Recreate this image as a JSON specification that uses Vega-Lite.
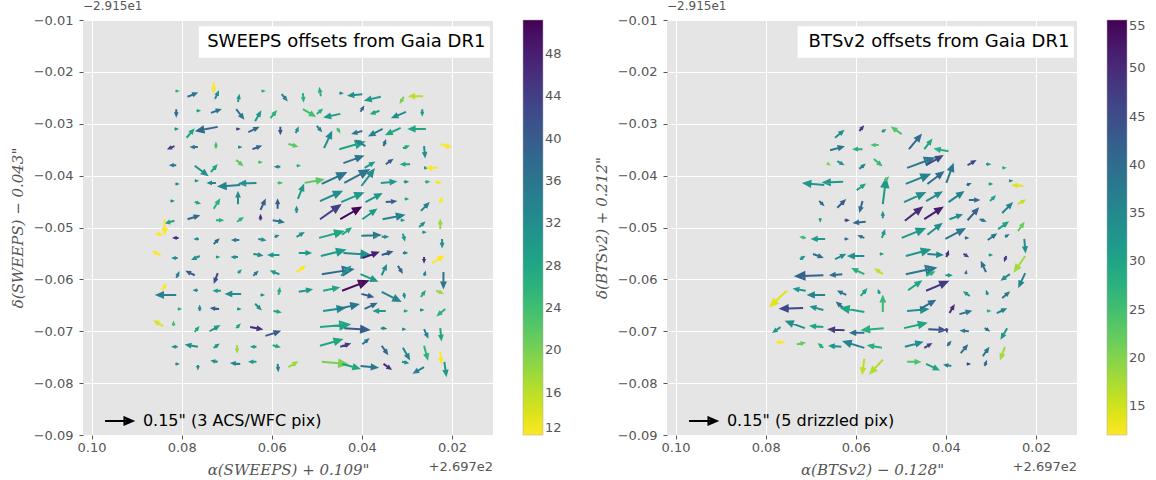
{
"$schema": "https://vega.github.io/schema/vega-lite/v6.json",
"padding": {"left": 10, "top": 0, "right": 2, "bottom": 0},
"datasets": {
"sweeps": [
{"ra":0.0814,"dec":-0.0237,"len":0.011,"ang":0,"c":26},{"ra":0.0787,"dec":-0.0248,"len":0.049,"ang":-22,"c":36},{"ra":0.0729,"dec":-0.0220,"len":0.049,"ang":90,"c":12},{"ra":0.0726,"dec":-0.0252,"len":0.038,"ang":-65,"c":32},{"ra":0.0623,"dec":-0.0237,"len":0.011,"ang":0,"c":26},{"ra":0.0675,"dec":-0.0258,"len":0.032,"ang":-80,"c":30},{"ra":0.0578,"dec":-0.0243,"len":0.038,"ang":50,"c":34},
{"ra":0.0812,"dec":-0.0272,"len":0.032,"ang":90,"c":38},{"ra":0.0767,"dec":-0.0275,"len":0.011,"ang":0,"c":30},{"ra":0.0735,"dec":-0.0279,"len":0.049,"ang":-20,"c":36},{"ra":0.0679,"dec":-0.0272,"len":0.059,"ang":52,"c":36},{"ra":0.0637,"dec":-0.0295,"len":0.054,"ang":-60,"c":30},{"ra":0.0603,"dec":-0.0289,"len":0.043,"ang":-50,"c":26},
{"ra":0.0816,"dec":-0.0310,"len":0.011,"ang":0,"c":32},{"ra":0.0789,"dec":-0.0327,"len":0.054,"ang":-50,"c":28},{"ra":0.0720,"dec":-0.0306,"len":0.113,"ang":169,"c":38},{"ra":0.0679,"dec":-0.0310,"len":0.011,"ang":0,"c":44},{"ra":0.0652,"dec":-0.0316,"len":0.054,"ang":-25,"c":38},{"ra":0.0581,"dec":-0.0306,"len":0.032,"ang":90,"c":42},{"ra":0.0547,"dec":-0.0318,"len":0.027,"ang":-65,"c":32},
{"ra":0.0816,"dec":-0.0343,"len":0.032,"ang":155,"c":44},{"ra":0.0764,"dec":-0.0345,"len":0.032,"ang":180,"c":36},{"ra":0.0724,"dec":-0.0347,"len":0.022,"ang":-90,"c":24},{"ra":0.0675,"dec":-0.0345,"len":0.011,"ang":0,"c":32},{"ra":0.0643,"dec":-0.0349,"len":0.043,"ang":-20,"c":38},{"ra":0.0563,"dec":-0.0339,"len":0.043,"ang":15,"c":22},
{"ra":0.0812,"dec":-0.0380,"len":0.027,"ang":180,"c":36},{"ra":0.0771,"dec":-0.0381,"len":0.081,"ang":37,"c":32},{"ra":0.0735,"dec":-0.0393,"len":0.043,"ang":-50,"c":28},{"ra":0.0679,"dec":-0.0370,"len":0.038,"ang":40,"c":22},{"ra":0.0630,"dec":-0.0374,"len":0.011,"ang":0,"c":24},{"ra":0.0581,"dec":-0.0383,"len":0.022,"ang":180,"c":34},{"ra":0.0545,"dec":-0.0381,"len":0.011,"ang":0,"c":26},
{"ra":0.0814,"dec":-0.0416,"len":0.011,"ang":0,"c":32},{"ra":0.0771,"dec":-0.0410,"len":0.011,"ang":0,"c":32},{"ra":0.0724,"dec":-0.0414,"len":0.038,"ang":180,"c":34},{"ra":0.0670,"dec":-0.0418,"len":0.113,"ang":176,"c":34},{"ra":0.0634,"dec":-0.0414,"len":0.087,"ang":178,"c":32},{"ra":0.0587,"dec":-0.0414,"len":0.016,"ang":0,"c":24},{"ra":0.0542,"dec":-0.0445,"len":0.076,"ang":-68,"c":30},
{"ra":0.0825,"dec":-0.0449,"len":0.011,"ang":0,"c":32},{"ra":0.0771,"dec":-0.0451,"len":0.022,"ang":15,"c":28},{"ra":0.0729,"dec":-0.0464,"len":0.054,"ang":-58,"c":26},{"ra":0.0675,"dec":-0.0455,"len":0.059,"ang":-90,"c":32},{"ra":0.0625,"dec":-0.0466,"len":0.054,"ang":-65,"c":40},{"ra":0.0587,"dec":-0.0464,"len":0.043,"ang":-90,"c":40},{"ra":0.0545,"dec":-0.0472,"len":0.027,"ang":-90,"c":32},
{"ra":0.0816,"dec":-0.0487,"len":0.043,"ang":165,"c":28},{"ra":0.0787,"dec":-0.0484,"len":0.059,"ang":-17,"c":38},{"ra":0.0724,"dec":-0.0486,"len":0.032,"ang":0,"c":26},{"ra":0.0677,"dec":-0.0489,"len":0.032,"ang":-35,"c":26},{"ra":0.0625,"dec":-0.0486,"len":0.022,"ang":-90,"c":46},{"ra":0.0598,"dec":-0.0486,"len":0.054,"ang":10,"c":36},{"ra":0.0838,"dec":-0.0484,"len":0.076,"ang":90,"c":12},
{"ra":0.0531,"dec":-0.0241,"len":0.038,"ang":85,"c":26},{"ra":0.0491,"dec":-0.0247,"len":0.038,"ang":-100,"c":26},{"ra":0.0450,"dec":-0.0241,"len":0.011,"ang":0,"c":32},{"ra":0.0399,"dec":-0.0243,"len":0.070,"ang":174,"c":32},{"ra":0.0358,"dec":-0.0248,"len":0.081,"ang":167,"c":30},{"ra":0.0307,"dec":-0.0248,"len":0.032,"ang":120,"c":20},{"ra":0.0264,"dec":-0.0247,"len":0.070,"ang":180,"c":16},
{"ra":0.0531,"dec":-0.0272,"len":0.070,"ang":30,"c":24},{"ra":0.0500,"dec":-0.0281,"len":0.032,"ang":-40,"c":26},{"ra":0.0448,"dec":-0.0281,"len":0.081,"ang":168,"c":30},{"ra":0.0403,"dec":-0.0277,"len":0.027,"ang":-60,"c":38},{"ra":0.0361,"dec":-0.0275,"len":0.043,"ang":160,"c":28},{"ra":0.0302,"dec":-0.0277,"len":0.076,"ang":157,"c":32},{"ra":0.0266,"dec":-0.0272,"len":0.027,"ang":90,"c":30},
{"ra":0.0500,"dec":-0.0304,"len":0.032,"ang":50,"c":34},{"ra":0.0455,"dec":-0.0308,"len":0.022,"ang":60,"c":24},{"ra":0.0399,"dec":-0.0314,"len":0.049,"ang":165,"c":36},{"ra":0.0354,"dec":-0.0310,"len":0.076,"ang":153,"c":34},{"ra":0.0314,"dec":-0.0308,"len":0.081,"ang":155,"c":28},{"ra":0.0258,"dec":-0.0310,"len":0.087,"ang":180,"c":28},
{"ra":0.0484,"dec":-0.0347,"len":0.092,"ang":-65,"c":32},{"ra":0.0450,"dec":-0.0349,"len":0.135,"ang":-16,"c":28},{"ra":0.0392,"dec":-0.0343,"len":0.054,"ang":210,"c":34},{"ra":0.0352,"dec":-0.0343,"len":0.027,"ang":-70,"c":38},{"ra":0.0309,"dec":-0.0347,"len":0.027,"ang":-20,"c":28},{"ra":0.0262,"dec":-0.0343,"len":0.054,"ang":85,"c":32},{"ra":0.0226,"dec":-0.0339,"len":0.054,"ang":18,"c":12},
{"ra":0.0441,"dec":-0.0376,"len":0.108,"ang":-20,"c":36},{"ra":0.0394,"dec":-0.0385,"len":0.054,"ang":-30,"c":30},{"ra":0.0347,"dec":-0.0378,"len":0.038,"ang":-35,"c":40},{"ra":0.0293,"dec":-0.0378,"len":0.043,"ang":180,"c":28},{"ra":0.0262,"dec":-0.0385,"len":0.011,"ang":0,"c":32},{"ra":0.0231,"dec":-0.0385,"len":0.054,"ang":180,"c":12},
{"ra":0.0527,"dec":-0.0414,"len":0.097,"ang":-10,"c":22},{"ra":0.0489,"dec":-0.0416,"len":0.140,"ang":-25,"c":36},{"ra":0.0439,"dec":-0.0414,"len":0.146,"ang":-28,"c":36},{"ra":0.0401,"dec":-0.0420,"len":0.108,"ang":-53,"c":32},{"ra":0.0358,"dec":-0.0414,"len":0.076,"ang":-5,"c":30},{"ra":0.0307,"dec":-0.0412,"len":0.016,"ang":0,"c":32},{"ra":0.0260,"dec":-0.0412,"len":0.016,"ang":0,"c":26},{"ra":0.0237,"dec":-0.0412,"len":0.022,"ang":10,"c":12},
{"ra":0.0493,"dec":-0.0449,"len":0.124,"ang":-24,"c":32},{"ra":0.0446,"dec":-0.0451,"len":0.124,"ang":-23,"c":30},{"ra":0.0392,"dec":-0.0451,"len":0.092,"ang":-28,"c":30},{"ra":0.0347,"dec":-0.0451,"len":0.049,"ang":-5,"c":40},{"ra":0.0305,"dec":-0.0445,"len":0.011,"ang":0,"c":28},{"ra":0.0269,"dec":-0.0468,"len":0.054,"ang":-45,"c":34},{"ra":0.0228,"dec":-0.0453,"len":0.027,"ang":-60,"c":12},
{"ra":0.0493,"dec":-0.0484,"len":0.130,"ang":-35,"c":44},{"ra":0.0448,"dec":-0.0484,"len":0.124,"ang":-30,"c":51},{"ra":0.0399,"dec":-0.0484,"len":0.087,"ang":-35,"c":30},{"ra":0.0354,"dec":-0.0484,"len":0.113,"ang":-11,"c":34},{"ra":0.0314,"dec":-0.0486,"len":0.011,"ang":0,"c":30},{"ra":0.0273,"dec":-0.0499,"len":0.032,"ang":-40,"c":32},{"ra":0.0226,"dec":-0.0503,"len":0.043,"ang":-90,"c":18},
{"ra":0.0843,"dec":-0.0514,"len":0.027,"ang":190,"c":12},{"ra":0.0807,"dec":-0.0520,"len":0.022,"ang":180,"c":46},{"ra":0.0762,"dec":-0.0522,"len":0.016,"ang":180,"c":32},{"ra":0.0729,"dec":-0.0532,"len":0.032,"ang":-45,"c":38},{"ra":0.0672,"dec":-0.0524,"len":0.032,"ang":180,"c":34},{"ra":0.0630,"dec":-0.0522,"len":0.032,"ang":10,"c":32},{"ra":0.0594,"dec":-0.0518,"len":0.016,"ang":-20,"c":32},{"ra":0.0545,"dec":-0.0518,"len":0.038,"ang":-30,"c":32},
{"ra":0.0847,"dec":-0.0553,"len":0.038,"ang":205,"c":12},{"ra":0.0809,"dec":-0.0559,"len":0.022,"ang":180,"c":32},{"ra":0.0760,"dec":-0.0555,"len":0.038,"ang":155,"c":32},{"ra":0.0724,"dec":-0.0557,"len":0.011,"ang":0,"c":30},{"ra":0.0675,"dec":-0.0557,"len":0.027,"ang":180,"c":32},{"ra":0.0641,"dec":-0.0551,"len":0.043,"ang":10,"c":32},{"ra":0.0583,"dec":-0.0553,"len":0.054,"ang":180,"c":30},
{"ra":0.0812,"dec":-0.0597,"len":0.027,"ang":-65,"c":34},{"ra":0.0771,"dec":-0.0592,"len":0.043,"ang":205,"c":40},{"ra":0.0720,"dec":-0.0588,"len":0.049,"ang":110,"c":42},{"ra":0.0675,"dec":-0.0588,"len":0.016,"ang":-45,"c":30},{"ra":0.0641,"dec":-0.0593,"len":0.027,"ang":-45,"c":36},{"ra":0.0583,"dec":-0.0590,"len":0.043,"ang":200,"c":30},
{"ra":0.0843,"dec":-0.0621,"len":0.032,"ang":-60,"c":12},{"ra":0.0812,"dec":-0.0630,"len":0.103,"ang":180,"c":34},{"ra":0.0764,"dec":-0.0621,"len":0.016,"ang":180,"c":32},{"ra":0.0713,"dec":-0.0622,"len":0.032,"ang":180,"c":30},{"ra":0.0668,"dec":-0.0628,"len":0.076,"ang":180,"c":32},{"ra":0.0625,"dec":-0.0630,"len":0.011,"ang":0,"c":32},{"ra":0.0585,"dec":-0.0630,"len":0.032,"ang":-80,"c":26},
{"ra":0.0809,"dec":-0.0657,"len":0.011,"ang":0,"c":26},{"ra":0.0760,"dec":-0.0661,"len":0.022,"ang":-90,"c":32},{"ra":0.0717,"dec":-0.0657,"len":0.038,"ang":185,"c":40},{"ra":0.0677,"dec":-0.0657,"len":0.011,"ang":0,"c":32},{"ra":0.0637,"dec":-0.0647,"len":0.038,"ang":45,"c":32},{"ra":0.0596,"dec":-0.0661,"len":0.032,"ang":10,"c":28},
{"ra":0.0841,"dec":-0.0690,"len":0.049,"ang":210,"c":14},{"ra":0.0818,"dec":-0.0690,"len":0.016,"ang":-90,"c":24},{"ra":0.0771,"dec":-0.0701,"len":0.027,"ang":-50,"c":28},{"ra":0.0738,"dec":-0.0700,"len":0.054,"ang":-30,"c":30},{"ra":0.0679,"dec":-0.0694,"len":0.022,"ang":-45,"c":28},{"ra":0.0648,"dec":-0.0692,"len":0.059,"ang":10,"c":46},{"ra":0.0614,"dec":-0.0709,"len":0.076,"ang":-18,"c":40},
{"ra":0.0809,"dec":-0.0730,"len":0.022,"ang":180,"c":32},{"ra":0.0764,"dec":-0.0730,"len":0.059,"ang":190,"c":32},{"ra":0.0729,"dec":-0.0732,"len":0.027,"ang":-35,"c":30},{"ra":0.0677,"dec":-0.0727,"len":0.032,"ang":90,"c":18},{"ra":0.0634,"dec":-0.0730,"len":0.022,"ang":180,"c":30},{"ra":0.0598,"dec":-0.0727,"len":0.032,"ang":15,"c":28},
{"ra":0.0814,"dec":-0.0763,"len":0.011,"ang":0,"c":32},{"ra":0.0764,"dec":-0.0765,"len":0.016,"ang":90,"c":32},{"ra":0.0720,"dec":-0.0759,"len":0.027,"ang":190,"c":32},{"ra":0.0670,"dec":-0.0763,"len":0.043,"ang":185,"c":34},{"ra":0.0634,"dec":-0.0759,"len":0.032,"ang":180,"c":30},{"ra":0.0587,"dec":-0.0763,"len":0.032,"ang":85,"c":34},{"ra":0.0563,"dec":-0.0769,"len":0.049,"ang":-30,"c":18},
{"ra":0.0495,"dec":-0.0520,"len":0.130,"ang":-15,"c":28},{"ra":0.0444,"dec":-0.0514,"len":0.054,"ang":-37,"c":28},{"ra":0.0401,"dec":-0.0516,"len":0.097,"ang":-2,"c":36},{"ra":0.0356,"dec":-0.0518,"len":0.027,"ang":0,"c":32},{"ra":0.0309,"dec":-0.0512,"len":0.032,"ang":75,"c":30},{"ra":0.0266,"dec":-0.0509,"len":0.011,"ang":0,"c":32},{"ra":0.0222,"dec":-0.0522,"len":0.038,"ang":90,"c":32},
{"ra":0.0540,"dec":-0.0549,"len":0.059,"ang":0,"c":30},{"ra":0.0491,"dec":-0.0555,"len":0.130,"ang":-14,"c":30},{"ra":0.0441,"dec":-0.0549,"len":0.140,"ang":4,"c":32},{"ra":0.0399,"dec":-0.0559,"len":0.087,"ang":-20,"c":48},{"ra":0.0356,"dec":-0.0553,"len":0.054,"ang":-18,"c":40},{"ra":0.0309,"dec":-0.0549,"len":0.016,"ang":0,"c":34},{"ra":0.0262,"dec":-0.0557,"len":0.022,"ang":90,"c":46},{"ra":0.0244,"dec":-0.0568,"len":0.065,"ang":-30,"c":12},
{"ra":0.0545,"dec":-0.0586,"len":0.049,"ang":-35,"c":12},{"ra":0.0489,"dec":-0.0590,"len":0.167,"ang":-9,"c":38},{"ra":0.0446,"dec":-0.0593,"len":0.065,"ang":-45,"c":30},{"ra":0.0403,"dec":-0.0590,"len":0.092,"ang":23,"c":30},{"ra":0.0356,"dec":-0.0592,"len":0.054,"ang":-65,"c":32},{"ra":0.0320,"dec":-0.0574,"len":0.038,"ang":58,"c":38},{"ra":0.0262,"dec":-0.0593,"len":0.016,"ang":-70,"c":34},{"ra":0.0219,"dec":-0.0586,"len":0.081,"ang":90,"c":36},
{"ra":0.0444,"dec":-0.0622,"len":0.146,"ang":-21,"c":50},{"ra":0.0540,"dec":-0.0624,"len":0.065,"ang":-10,"c":30},{"ra":0.0486,"dec":-0.0622,"len":0.081,"ang":-12,"c":28},{"ra":0.0401,"dec":-0.0628,"len":0.059,"ang":15,"c":40},{"ra":0.0356,"dec":-0.0624,"len":0.108,"ang":27,"c":34},{"ra":0.0307,"dec":-0.0626,"len":0.022,"ang":80,"c":32},{"ra":0.0269,"dec":-0.0634,"len":0.032,"ang":-55,"c":28},{"ra":0.0235,"dec":-0.0622,"len":0.032,"ang":20,"c":18},
{"ra":0.0486,"dec":-0.0661,"len":0.113,"ang":-8,"c":32},{"ra":0.0455,"dec":-0.0657,"len":0.113,"ang":-12,"c":36},{"ra":0.0394,"dec":-0.0657,"len":0.065,"ang":-25,"c":38},{"ra":0.0347,"dec":-0.0661,"len":0.059,"ang":180,"c":30},{"ra":0.0307,"dec":-0.0661,"len":0.011,"ang":0,"c":28},{"ra":0.0271,"dec":-0.0659,"len":0.011,"ang":0,"c":32},{"ra":0.0215,"dec":-0.0657,"len":0.049,"ang":140,"c":26},
{"ra":0.0493,"dec":-0.0692,"len":0.157,"ang":-5,"c":28},{"ra":0.0439,"dec":-0.0694,"len":0.130,"ang":4,"c":40},{"ra":0.0358,"dec":-0.0694,"len":0.022,"ang":5,"c":34},{"ra":0.0311,"dec":-0.0696,"len":0.011,"ang":0,"c":32},{"ra":0.0262,"dec":-0.0696,"len":0.043,"ang":65,"c":34},{"ra":0.0226,"dec":-0.0694,"len":0.059,"ang":85,"c":28},
{"ra":0.0493,"dec":-0.0728,"len":0.119,"ang":-16,"c":28},{"ra":0.0448,"dec":-0.0730,"len":0.049,"ang":-18,"c":44},{"ra":0.0399,"dec":-0.0725,"len":0.038,"ang":-40,"c":36},{"ra":0.0356,"dec":-0.0728,"len":0.049,"ang":55,"c":38},{"ra":0.0309,"dec":-0.0732,"len":0.065,"ang":60,"c":34},{"ra":0.0262,"dec":-0.0728,"len":0.070,"ang":75,"c":26},{"ra":0.0226,"dec":-0.0740,"len":0.054,"ang":85,"c":12},
{"ra":0.0489,"dec":-0.0759,"len":0.135,"ang":5,"c":20},{"ra":0.0444,"dec":-0.0763,"len":0.092,"ang":15,"c":28},{"ra":0.0403,"dec":-0.0767,"len":0.087,"ang":5,"c":36},{"ra":0.0352,"dec":-0.0763,"len":0.043,"ang":35,"c":46},{"ra":0.0311,"dec":-0.0759,"len":0.027,"ang":10,"c":32},{"ra":0.0262,"dec":-0.0769,"len":0.059,"ang":150,"c":34},{"ra":0.0217,"dec":-0.0759,"len":0.070,"ang":82,"c":30}
],
"bts": [
{"ra":0.0592,"dec":-0.0314,"len":0.027,"ang":-50,"c":48},{"ra":0.0542,"dec":-0.0316,"len":0.016,"ang":-35,"c":32},{"ra":0.0498,"dec":-0.0320,"len":0.059,"ang":215,"c":24},{"ra":0.0646,"dec":-0.0327,"len":0.054,"ang":-40,"c":34},
{"ra":0.0657,"dec":-0.0351,"len":0.070,"ang":-15,"c":38},{"ra":0.0585,"dec":-0.0349,"len":0.043,"ang":180,"c":28},{"ra":0.0549,"dec":-0.0341,"len":0.032,"ang":180,"c":24},
{"ra":0.0664,"dec":-0.0376,"len":0.011,"ang":30,"c":20},{"ra":0.0641,"dec":-0.0372,"len":0.032,"ang":30,"c":32},{"ra":0.0592,"dec":-0.0387,"len":0.032,"ang":-40,"c":36},{"ra":0.0560,"dec":-0.0368,"len":0.049,"ang":40,"c":26},
{"ra":0.0670,"dec":-0.0418,"len":0.108,"ang":185,"c":32},{"ra":0.0628,"dec":-0.0412,"len":0.103,"ang":178,"c":32},{"ra":0.0598,"dec":-0.0428,"len":0.049,"ang":-35,"c":30},{"ra":0.0540,"dec":-0.0455,"len":0.135,"ang":-83,"c":32},{"ra":0.0536,"dec":-0.0410,"len":0.022,"ang":-45,"c":24},
{"ra":0.0681,"dec":-0.0449,"len":0.027,"ang":45,"c":40},{"ra":0.0641,"dec":-0.0462,"len":0.054,"ang":-45,"c":42},{"ra":0.0585,"dec":-0.0449,"len":0.054,"ang":105,"c":40},
{"ra":0.0679,"dec":-0.0482,"len":0.011,"ang":90,"c":32},{"ra":0.0625,"dec":-0.0486,"len":0.016,"ang":0,"c":46},{"ra":0.0578,"dec":-0.0489,"len":0.059,"ang":175,"c":40},{"ra":0.0540,"dec":-0.0482,"len":0.027,"ang":-90,"c":34},
{"ra":0.0711,"dec":-0.0520,"len":0.022,"ang":190,"c":26},{"ra":0.0668,"dec":-0.0522,"len":0.065,"ang":180,"c":32},{"ra":0.0625,"dec":-0.0522,"len":0.011,"ang":0,"c":40},{"ra":0.0581,"dec":-0.0520,"len":0.027,"ang":200,"c":38},{"ra":0.0542,"dec":-0.0520,"len":0.038,"ang":-70,"c":32},
{"ra":0.0482,"dec":-0.0349,"len":0.097,"ang":-50,"c":40},{"ra":0.0448,"dec":-0.0349,"len":0.059,"ang":-52,"c":30},{"ra":0.0394,"dec":-0.0353,"len":0.070,"ang":190,"c":28},
{"ra":0.0486,"dec":-0.0385,"len":0.151,"ang":-20,"c":38},{"ra":0.0444,"dec":-0.0380,"len":0.097,"ang":-30,"c":46},{"ra":0.0399,"dec":-0.0414,"len":0.103,"ang":-70,"c":38},{"ra":0.0352,"dec":-0.0380,"len":0.043,"ang":-30,"c":46},{"ra":0.0311,"dec":-0.0378,"len":0.016,"ang":0,"c":32},{"ra":0.0275,"dec":-0.0385,"len":0.011,"ang":0,"c":28},
{"ra":0.0489,"dec":-0.0416,"len":0.135,"ang":-22,"c":36},{"ra":0.0441,"dec":-0.0416,"len":0.103,"ang":-37,"c":40},{"ra":0.0354,"dec":-0.0418,"len":0.016,"ang":-20,"c":40},{"ra":0.0305,"dec":-0.0416,"len":0.011,"ang":0,"c":32},{"ra":0.0260,"dec":-0.0410,"len":0.011,"ang":0,"c":34},{"ra":0.0228,"dec":-0.0420,"len":0.054,"ang":185,"c":14},
{"ra":0.0493,"dec":-0.0451,"len":0.119,"ang":-24,"c":34},{"ra":0.0444,"dec":-0.0449,"len":0.092,"ang":-30,"c":34},{"ra":0.0394,"dec":-0.0451,"len":0.092,"ang":-35,"c":36},{"ra":0.0349,"dec":-0.0447,"len":0.049,"ang":0,"c":40},{"ra":0.0302,"dec":-0.0449,"len":0.032,"ang":-45,"c":30},{"ra":0.0240,"dec":-0.0455,"len":0.038,"ang":-30,"c":16},
{"ra":0.0491,"dec":-0.0487,"len":0.113,"ang":-38,"c":50},{"ra":0.0448,"dec":-0.0484,"len":0.113,"ang":-33,"c":52},{"ra":0.0392,"dec":-0.0484,"len":0.065,"ang":-20,"c":34},{"ra":0.0352,"dec":-0.0486,"len":0.081,"ang":-48,"c":42},{"ra":0.0325,"dec":-0.0484,"len":0.027,"ang":20,"c":38},{"ra":0.0275,"dec":-0.0472,"len":0.070,"ang":-45,"c":36},
{"ra":0.0498,"dec":-0.0520,"len":0.130,"ang":-22,"c":32},{"ra":0.0441,"dec":-0.0514,"len":0.092,"ang":-38,"c":34},{"ra":0.0401,"dec":-0.0522,"len":0.113,"ang":-28,"c":38},{"ra":0.0358,"dec":-0.0520,"len":0.011,"ang":0,"c":40},{"ra":0.0284,"dec":-0.0503,"len":0.059,"ang":-35,"c":30},{"ra":0.0240,"dec":-0.0507,"len":0.049,"ang":-55,"c":22},{"ra":0.0307,"dec":-0.0524,"len":0.049,"ang":-35,"c":38},{"ra":0.0269,"dec":-0.0518,"len":0.016,"ang":-30,"c":38},{"ra":0.0226,"dec":-0.0522,"len":0.065,"ang":85,"c":34},
{"ra":0.0724,"dec":-0.0561,"len":0.022,"ang":-30,"c":32},{"ra":0.0695,"dec":-0.0551,"len":0.049,"ang":20,"c":40},{"ra":0.0646,"dec":-0.0561,"len":0.054,"ang":-25,"c":34},{"ra":0.0581,"dec":-0.0555,"len":0.081,"ang":180,"c":34},{"ra":0.0547,"dec":-0.0551,"len":0.011,"ang":0,"c":30},
{"ra":0.0672,"dec":-0.0592,"len":0.146,"ang":178,"c":42},{"ra":0.0630,"dec":-0.0590,"len":0.059,"ang":175,"c":40},{"ra":0.0581,"dec":-0.0590,"len":0.065,"ang":205,"c":28},{"ra":0.0540,"dec":-0.0590,"len":0.043,"ang":215,"c":16},
{"ra":0.0753,"dec":-0.0622,"len":0.119,"ang":137,"c":14},{"ra":0.0711,"dec":-0.0622,"len":0.059,"ang":190,"c":32},{"ra":0.0668,"dec":-0.0630,"len":0.087,"ang":180,"c":36},{"ra":0.0621,"dec":-0.0630,"len":0.043,"ang":205,"c":38},{"ra":0.0589,"dec":-0.0632,"len":0.043,"ang":-50,"c":30},{"ra":0.0547,"dec":-0.0628,"len":0.016,"ang":-110,"c":32},{"ra":0.0540,"dec":-0.0663,"len":0.081,"ang":-90,"c":26},
{"ra":0.0717,"dec":-0.0655,"len":0.119,"ang":178,"c":46},{"ra":0.0672,"dec":-0.0659,"len":0.065,"ang":195,"c":34},{"ra":0.0625,"dec":-0.0657,"len":0.049,"ang":220,"c":40},{"ra":0.0581,"dec":-0.0663,"len":0.124,"ang":190,"c":30},
{"ra":0.0767,"dec":-0.0692,"len":0.043,"ang":145,"c":32},{"ra":0.0713,"dec":-0.0694,"len":0.103,"ang":200,"c":34},{"ra":0.0672,"dec":-0.0692,"len":0.065,"ang":185,"c":30},{"ra":0.0625,"dec":-0.0698,"len":0.081,"ang":183,"c":48},{"ra":0.0581,"dec":-0.0703,"len":0.070,"ang":180,"c":40},{"ra":0.0538,"dec":-0.0694,"len":0.113,"ang":175,"c":28},
{"ra":0.0758,"dec":-0.0721,"len":0.038,"ang":180,"c":12},{"ra":0.0731,"dec":-0.0725,"len":0.038,"ang":-10,"c":22},{"ra":0.0672,"dec":-0.0732,"len":0.027,"ang":220,"c":28},{"ra":0.0632,"dec":-0.0730,"len":0.059,"ang":185,"c":32},{"ra":0.0581,"dec":-0.0732,"len":0.113,"ang":197,"c":36},{"ra":0.0542,"dec":-0.0732,"len":0.070,"ang":190,"c":28},
{"ra":0.0581,"dec":-0.0753,"len":0.076,"ang":98,"c":16},{"ra":0.0540,"dec":-0.0755,"len":0.097,"ang":133,"c":17},
{"ra":0.0489,"dec":-0.0555,"len":0.130,"ang":-15,"c":32},{"ra":0.0441,"dec":-0.0551,"len":0.076,"ang":4,"c":36},{"ra":0.0399,"dec":-0.0557,"len":0.027,"ang":-70,"c":50},{"ra":0.0361,"dec":-0.0551,"len":0.022,"ang":30,"c":46},{"ra":0.0305,"dec":-0.0553,"len":0.011,"ang":0,"c":32},{"ra":0.0266,"dec":-0.0555,"len":0.022,"ang":110,"c":48},
{"ra":0.0489,"dec":-0.0590,"len":0.162,"ang":-12,"c":38},{"ra":0.0444,"dec":-0.0593,"len":0.043,"ang":-25,"c":28},{"ra":0.0401,"dec":-0.0592,"len":0.027,"ang":0,"c":32},{"ra":0.0356,"dec":-0.0590,"len":0.011,"ang":-80,"c":40},{"ra":0.0311,"dec":-0.0586,"len":0.054,"ang":245,"c":40},{"ra":0.0224,"dec":-0.0555,"len":0.097,"ang":125,"c":18},{"ra":0.0258,"dec":-0.0590,"len":0.049,"ang":145,"c":34},{"ra":0.0224,"dec":-0.0588,"len":0.076,"ang":115,"c":36},
{"ra":0.0484,"dec":-0.0621,"len":0.081,"ang":-35,"c":30},{"ra":0.0444,"dec":-0.0622,"len":0.124,"ang":-23,"c":48},{"ra":0.0347,"dec":-0.0632,"len":0.032,"ang":215,"c":32},{"ra":0.0307,"dec":-0.0630,"len":0.016,"ang":-110,"c":34},{"ra":0.0275,"dec":-0.0636,"len":0.043,"ang":-40,"c":38},
{"ra":0.0486,"dec":-0.0661,"len":0.108,"ang":-5,"c":34},{"ra":0.0457,"dec":-0.0657,"len":0.087,"ang":-30,"c":40},{"ra":0.0392,"dec":-0.0665,"len":0.043,"ang":-60,"c":50},{"ra":0.0370,"dec":-0.0667,"len":0.059,"ang":-15,"c":38},{"ra":0.0309,"dec":-0.0661,"len":0.011,"ang":0,"c":28},{"ra":0.0287,"dec":-0.0665,"len":0.049,"ang":-25,"c":36},
{"ra":0.0493,"dec":-0.0694,"len":0.119,"ang":-13,"c":30},{"ra":0.0439,"dec":-0.0696,"len":0.087,"ang":3,"c":44},{"ra":0.0399,"dec":-0.0694,"len":0.016,"ang":80,"c":46},{"ra":0.0349,"dec":-0.0700,"len":0.038,"ang":185,"c":38},{"ra":0.0314,"dec":-0.0694,"len":0.022,"ang":30,"c":40},{"ra":0.0264,"dec":-0.0694,"len":0.059,"ang":120,"c":32},
{"ra":0.0491,"dec":-0.0730,"len":0.092,"ang":-15,"c":34},{"ra":0.0448,"dec":-0.0732,"len":0.038,"ang":-30,"c":46},{"ra":0.0397,"dec":-0.0728,"len":0.022,"ang":-50,"c":40},{"ra":0.0367,"dec":-0.0742,"len":0.049,"ang":-50,"c":40},{"ra":0.0318,"dec":-0.0748,"len":0.049,"ang":-55,"c":38},{"ra":0.0269,"dec":-0.0730,"len":0.065,"ang":110,"c":18},
{"ra":0.0486,"dec":-0.0759,"len":0.065,"ang":0,"c":24},{"ra":0.0444,"dec":-0.0763,"len":0.070,"ang":25,"c":30},{"ra":0.0388,"dec":-0.0767,"len":0.032,"ang":190,"c":36},{"ra":0.0354,"dec":-0.0763,"len":0.011,"ang":0,"c":46},{"ra":0.0314,"dec":-0.0767,"len":0.022,"ang":-70,"c":40}
]
},
"config": {
  "view": {"fill": "#E5E5E5", "stroke": null},
  "axis": {"grid": true, "gridColor": "#ffffff", "gridWidth": 1, "domain": false, "tickColor": "#555555", "tickSize": 4, "labelColor": "#555555", "labelFont": "DejaVu Sans", "labelFontSize": 13, "titleFont": "DejaVu Serif", "titleFontSize": 15, "titleFontWeight": "normal", "titleFontStyle": "italic", "titleColor": "#555555"},
  "title": {"anchor": "start", "frame": "group", "baseline": "bottom", "fontSize": 12, "fontWeight": "normal", "color": "#555555", "font": "DejaVu Sans", "offset": 1},
  "legend": {"type": "gradient", "direction": "vertical", "orient": "right", "offset": 30, "padding": 0, "gradientLength": 415, "gradientThickness": 20, "labelFont": "DejaVu Sans", "labelFontSize": 13, "labelColor": "#555555", "labelOffset": 6, "gradientStrokeColor": "#aaaaaa", "gradientStrokeWidth": 0.5, "labelOverlap": false}
},
"spacing": 32,
"resolve": {"scale": {"color": "independent", "x": "independent", "y": "independent", "size": "independent"}},
"hconcat": [
{
  "width": 410, "height": 415,
  "title": "−2.915e1",
  "layer": [
    {"data": {"name": "sweeps"},
     "mark": {"type": "point", "shape": "M0,0L1,0M0.7,-0.13L1,0L0.7,0.13ZM0.78,-0.07L0.78,0.07", "filled": false, "opacity": 1, "strokeWidth": 2},
     "encoding": {
       "x": {"field": "ra", "type": "quantitative", "scale": {"domain": [0.0109, 0.1019], "reverse": true, "nice": false, "zero": false}, "axis": {"values": [0.02, 0.04, 0.06, 0.08, 0.1], "format": ".2f", "title": "α(SWEEPS) + 0.109\"", "labelPadding": 2, "titlePadding": 8}},
       "y": {"field": "dec", "type": "quantitative", "scale": {"domain": [-0.09, -0.01], "nice": false, "zero": false}, "axis": {"values": [-0.09, -0.08, -0.07, -0.06, -0.05, -0.04, -0.03, -0.02, -0.01], "format": ".2f", "title": "δ(SWEEPS) − 0.043\"", "labelPadding": 6, "titlePadding": 8}},
       "color": {"field": "c", "type": "quantitative", "scale": {"scheme": "viridis", "reverse": true, "domain": [12, 51.2]}, "legend": {"type": "gradient", "title": null, "values": [12, 16, 20, 24, 28, 32, 36, 40, 44, 48]}},
       "size": {"field": "len", "type": "quantitative", "scale": {"type": "pow", "exponent": 2, "domain": [0, 0.15], "range": [0, 3069]}, "legend": null},
       "angle": {"field": "ang", "type": "quantitative", "scale": null}
     }},
    {"data": {"values": [{}]},
     "mark": {"type": "point", "shape": "M0,0L1,0M0.7,-0.13L1,0L0.7,0.13ZM0.78,-0.07L0.78,0.07", "filled": false, "opacity": 1, "strokeWidth": 2, "stroke": "black"},
     "encoding": {"x": {"datum": 0.0970}, "y": {"datum": -0.0873}, "size": {"datum": 0.15}, "angle": {"value": 0}}},
    {"data": {"values": [{}]},
     "mark": {"type": "text", "align": "left", "baseline": "middle", "fontSize": 16, "font": "DejaVu Sans", "color": "black"},
     "encoding": {"x": {"datum": 0.0886}, "y": {"datum": -0.0873}, "text": {"value": "0.15\" (3 ACS/WFC pix)"}}},
    {"data": {"values": [{}]},
     "mark": {"type": "rect", "fill": "white"},
     "encoding": {"x": {"datum": 0.0762}, "x2": {"datum": 0.0116}, "y": {"datum": -0.0112}, "y2": {"datum": -0.0173}}},
    {"data": {"values": [{}]},
     "mark": {"type": "text", "align": "right", "baseline": "middle", "fontSize": 18, "font": "DejaVu Sans", "color": "black"},
     "encoding": {"x": {"datum": 0.0126}, "y": {"datum": -0.0142}, "text": {"value": "SWEEPS offsets from Gaia DR1"}}},
    {"data": {"values": [{}]},
     "mark": {"type": "text", "align": "right", "baseline": "middle", "fontSize": 13, "font": "DejaVu Sans", "color": "#555555", "dy": 32},
     "encoding": {"x": {"datum": 0.0109}, "y": {"datum": -0.09}, "text": {"value": "+2.697e2"}}}
  ]
},
{
  "width": 410, "height": 415,
  "title": "−2.915e1",
  "layer": [
    {"data": {"name": "bts"},
     "mark": {"type": "point", "shape": "M0,0L1,0M0.7,-0.13L1,0L0.7,0.13ZM0.78,-0.07L0.78,0.07", "filled": false, "opacity": 1, "strokeWidth": 2},
     "encoding": {
       "x": {"field": "ra", "type": "quantitative", "scale": {"domain": [0.0109, 0.1019], "reverse": true, "nice": false, "zero": false}, "axis": {"values": [0.02, 0.04, 0.06, 0.08, 0.1], "format": ".2f", "title": "α(BTSv2) − 0.128\"", "labelPadding": 2, "titlePadding": 8}},
       "y": {"field": "dec", "type": "quantitative", "scale": {"domain": [-0.09, -0.01], "nice": false, "zero": false}, "axis": {"values": [-0.09, -0.08, -0.07, -0.06, -0.05, -0.04, -0.03, -0.02, -0.01], "format": ".2f", "title": "δ(BTSv2) + 0.212\"", "labelPadding": 6, "titlePadding": 8}},
       "color": {"field": "c", "type": "quantitative", "scale": {"scheme": "viridis", "reverse": true, "domain": [12, 55]}, "legend": {"type": "gradient", "title": null, "values": [15, 20, 25, 30, 35, 40, 45, 50, 55]}},
       "size": {"field": "len", "type": "quantitative", "scale": {"type": "pow", "exponent": 2, "domain": [0, 0.15], "range": [0, 3069]}, "legend": null},
       "angle": {"field": "ang", "type": "quantitative", "scale": null}
     }},
    {"data": {"values": [{}]},
     "mark": {"type": "point", "shape": "M0,0L1,0M0.7,-0.13L1,0L0.7,0.13ZM0.78,-0.07L0.78,0.07", "filled": false, "opacity": 1, "strokeWidth": 2, "stroke": "black"},
     "encoding": {"x": {"datum": 0.0970}, "y": {"datum": -0.0873}, "size": {"datum": 0.15}, "angle": {"value": 0}}},
    {"data": {"values": [{}]},
     "mark": {"type": "text", "align": "left", "baseline": "middle", "fontSize": 16, "font": "DejaVu Sans", "color": "black"},
     "encoding": {"x": {"datum": 0.0886}, "y": {"datum": -0.0873}, "text": {"value": "0.15\" (5 drizzled pix)"}}},
    {"data": {"values": [{}]},
     "mark": {"type": "rect", "fill": "white"},
     "encoding": {"x": {"datum": 0.0729}, "x2": {"datum": 0.0116}, "y": {"datum": -0.0112}, "y2": {"datum": -0.0173}}},
    {"data": {"values": [{}]},
     "mark": {"type": "text", "align": "right", "baseline": "middle", "fontSize": 18, "font": "DejaVu Sans", "color": "black"},
     "encoding": {"x": {"datum": 0.0126}, "y": {"datum": -0.0142}, "text": {"value": "BTSv2 offsets from Gaia DR1"}}},
    {"data": {"values": [{}]},
     "mark": {"type": "text", "align": "right", "baseline": "middle", "fontSize": 13, "font": "DejaVu Sans", "color": "#555555", "dy": 32},
     "encoding": {"x": {"datum": 0.0109}, "y": {"datum": -0.09}, "text": {"value": "+2.697e2"}}}
  ]
}
]
}
